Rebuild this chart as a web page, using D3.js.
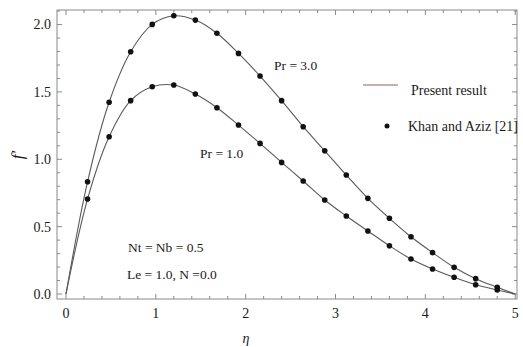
<!DOCTYPE html>
<html>
<head>
<meta charset="utf-8">
<script src="https://cdn.jsdelivr.net/npm/d3@7"></script>
<style>
  body { margin: 0; background: #fff; }
  text { font-family: "Liberation Serif", "Times New Roman", serif; fill: #1a1a1a; }
</style>
</head>
<body>
<div id="chart"></div>
<script>
// eta positions of the reference points (Khan and Aziz)
var etaDots = [0.24, 0.48, 0.72, 0.96, 1.2, 1.44, 1.68, 1.92, 2.16, 2.4, 2.64, 2.88, 3.12, 3.36, 3.6, 3.84, 4.08, 4.32, 4.56, 4.8];
var pr3Dots = [0.833, 1.423, 1.798, 2.001, 2.065, 2.033, 1.935, 1.786, 1.618, 1.435, 1.242, 1.063, 0.883, 0.710, 0.562, 0.425, 0.307, 0.198, 0.114, 0.050];
var pr1Dots = [0.705, 1.167, 1.435, 1.538, 1.551, 1.484, 1.383, 1.254, 1.118, 0.977, 0.839, 0.698, 0.579, 0.468, 0.358, 0.260, 0.186, 0.124, 0.069, 0.030];

// present result curves
var etaLine = [0, 0.24, 0.48, 0.72, 0.96, 1.2, 1.44, 1.68, 1.92, 2.16, 2.4, 2.64, 2.88, 3.12, 3.36, 3.6, 3.84, 4.08, 4.32, 4.56, 4.8, 5.0];
var pr3Line = [0, 0.833, 1.423, 1.798, 2.001, 2.065, 2.033, 1.935, 1.786, 1.618, 1.435, 1.242, 1.063, 0.883, 0.710, 0.562, 0.425, 0.307, 0.198, 0.114, 0.050, 0];
var pr1Line = [0, 0.705, 1.167, 1.435, 1.538, 1.551, 1.484, 1.383, 1.254, 1.118, 0.977, 0.839, 0.698, 0.579, 0.468, 0.358, 0.260, 0.186, 0.124, 0.069, 0.030, 0];

var xTicks = [0, 1, 2, 3, 4, 5];
var yTicks = [0, 0.5, 1.0, 1.5, 2.0];

var width = 523, height = 347;
var x = d3.scaleLinear().domain([-0.1, 5.02]).range([57, 517]);
var y = d3.scaleLinear().domain([-0.037, 2.108]).range([299, 10]);

var svg = d3.select("#chart").append("svg")
  .attr("width", width)
  .attr("height", height);

var frameColor = "#8a8a8a";

// frame
svg.append("rect")
  .attr("x", x.range()[0]).attr("y", y.range()[1])
  .attr("width", x.range()[1] - x.range()[0])
  .attr("height", y.range()[0] - y.range()[1])
  .attr("fill", "none").attr("stroke", frameColor).attr("stroke-width", 1);

var xMinor = d3.range(0, 5.01, 0.2);
var yMinor = d3.range(0, 2.101, 0.1);
var isMajorX = v => Math.abs(v - Math.round(v)) < 1e-6;
var isMajorY = v => Math.abs(v * 2 - Math.round(v * 2)) < 1e-6;

// tick marks, pointing inward on all four sides
var tg = svg.append("g").attr("stroke", frameColor).attr("stroke-width", 1);
xMinor.forEach(function(v) {
  var len = isMajorX(v) ? 5 : 3;
  tg.append("line").attr("x1", x(v)).attr("x2", x(v)).attr("y1", y.range()[0]).attr("y2", y.range()[0] - len);
  tg.append("line").attr("x1", x(v)).attr("x2", x(v)).attr("y1", y.range()[1]).attr("y2", y.range()[1] + len);
});
yMinor.forEach(function(v) {
  var len = isMajorY(v) ? 5 : 3;
  tg.append("line").attr("y1", y(v)).attr("y2", y(v)).attr("x1", x.range()[0]).attr("x2", x.range()[0] + len);
  tg.append("line").attr("y1", y(v)).attr("y2", y(v)).attr("x1", x.range()[1]).attr("x2", x.range()[1] - len);
});

// tick labels
svg.append("g").selectAll("text").data(xTicks).join("text")
  .attr("x", d => x(d)).attr("y", 318)
  .attr("text-anchor", "middle").attr("font-size", 14)
  .text(d => d);
svg.append("g").selectAll("text").data(yTicks).join("text")
  .attr("x", 51).attr("y", d => y(d)).attr("dy", "0.35em")
  .attr("text-anchor", "end").attr("font-size", 14)
  .text(d => d3.format(".1f")(d));

// axis labels
svg.append("text").attr("x", 246).attr("y", 343)
  .attr("text-anchor", "middle").attr("font-size", 14).attr("font-style", "italic")
  .text("η");
svg.append("text")
  .attr("transform", "translate(23,155) rotate(-90)")
  .attr("text-anchor", "middle").attr("font-size", 17).attr("font-style", "italic")
  .text("f′");

// curves
var line = d3.line()
  .x(d => x(d[0])).y(d => y(d[1]))
  .curve(d3.curveCatmullRom.alpha(0.5));

[pr3Line, pr1Line].forEach(function(vals) {
  svg.append("path")
    .datum(etaLine.map((e, i) => [e, vals[i]]))
    .attr("fill", "none").attr("stroke", "#5a5a5a").attr("stroke-width", 1.1)
    .attr("d", line);
});

// dots
[pr3Dots, pr1Dots].forEach(function(vals) {
  svg.append("g").selectAll("circle")
    .data(etaDots.map((e, i) => [e, vals[i]]))
    .join("circle")
      .attr("cx", d => x(d[0])).attr("cy", d => y(d[1]))
      .attr("r", 2.8).attr("fill", "#111");
});

// annotations
var notes = [
  {t: "Pr = 3.0", x: 274, y: 65},
  {t: "Pr = 1.0", x: 200, y: 153},
  {t: "Nt = Nb = 0.5", x: 128, y: 247},
  {t: "Le = 1.0, N =0.0", x: 127, y: 274}
];
svg.append("g").selectAll("text").data(notes).join("text")
  .attr("x", d => d.x).attr("y", d => d.y).attr("dy", "0.35em")
  .attr("font-size", 13.5)
  .text(d => d.t);

// legend
svg.append("line").attr("x1", 363).attr("x2", 398).attr("y1", 85).attr("y2", 85)
  .attr("stroke", "#b89494").attr("stroke-width", 1.3);
svg.append("text").attr("x", 411).attr("y", 90).attr("dy", "0.35em")
  .attr("font-size", 14).text("Present result");
svg.append("circle").attr("cx", 387).attr("cy", 126).attr("r", 2.5).attr("fill", "#111");
svg.append("text").attr("x", 408).attr("y", 126).attr("dy", "0.35em")
  .attr("font-size", 14).text("Khan and Aziz [21]");
</script>
</body>
</html>
